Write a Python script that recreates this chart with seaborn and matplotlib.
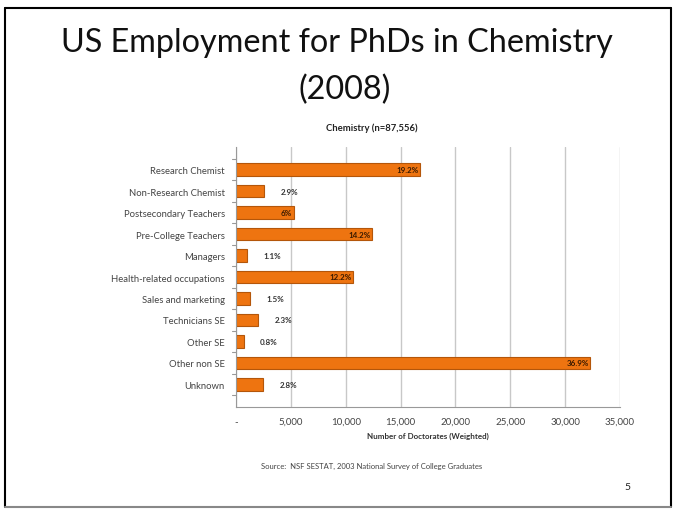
import matplotlib
matplotlib.use("Agg")
import matplotlib.pyplot as plt
import seaborn as sns
from matplotlib.lines import Line2D

# data
categories = ["Research Chemist", "Non-Research Chemist", "Postsecondary Teachers",
              "Pre-College Teachers", "Managers", "Health-related occupations",
              "Sales and marketing", "Technicians SE", "Other SE", "Other non SE", "Unknown"]
doctorates = [16810, 2540, 5250, 12430, 960, 10680, 1310, 2010, 700, 32310, 2450]
pct_labels = ["19.2%", "2.9%", "6%", "14.2%", "1.1%", "12.2%", "1.5%", "2.3%", "0.8%", "36.9%", "2.8%"]
inside = [True, False, True, True, False, True, False, False, False, True, False]
xticks = [0, 5000, 10000, 15000, 20000, 25000, 30000, 35000]
xtick_labels = ["-", "5,000", "10,000", "15,000", "20,000", "25,000", "30,000", "35,000"]

sns.set_style("white")
plt.rcParams["font.family"] = ["Lato", "DejaVu Sans"]

W, H = 674, 510
fig = plt.figure(figsize=(W / 100, H / 100), dpi=100)
ax = fig.add_axes([236 / W, 1 - 408 / H, (620 - 236) / W, (408 - 148) / H])

sns.barplot(x=doctorates, y=categories, orient="h", color="#EE7410", saturation=1,
            width=0.6, edgecolor="#B4560A", linewidth=0.8, ax=ax)

ax.set_xlim(0, 35000)
ax.set_xticks(xticks)
ax.set_xticklabels(xtick_labels, fontsize=7, color="#444444")
ax.tick_params(axis="y", labelsize=6.8, colors="#444444", length=0, pad=8)
ax.tick_params(axis="x", length=3, color="#999999", pad=4)
ax.xaxis.grid(True, color="#C8C8C8", linewidth=1)
ax.set_axisbelow(True)
for s in ["top", "right"]:
    ax.spines[s].set_visible(False)
ax.spines["left"].set_color("#999999")
ax.spines["bottom"].set_color("#999999")
ax.set_ylabel("")
ax.set_xlabel("Number of Doctorates (Weighted)", fontsize=5.8, fontweight="bold",
              color="#333333", labelpad=4)

# little tick marks between categories on the left axis
for i in range(len(categories) + 1):
    ax.plot([-350, 0], [i - 0.5, i - 0.5], color="#999999", lw=0.8, clip_on=False)

for i, (v, lab, ins) in enumerate(zip(doctorates, pct_labels, inside)):
    if ins:
        ax.text(v - 150, i, lab, ha="right", va="center", fontsize=5.8,
                fontweight="bold", color="#3A1A00")
    else:
        ax.text(v + 1500, i, lab, ha="left", va="center", fontsize=5.8,
                fontweight="bold", color="#333333")

fig.text(337 / W, 1 - 43 / H, "US Employment for PhDs in Chemistry", ha="center",
         va="center", fontsize=23.3, color="#111111")
fig.text(345 / W, 1 - 90 / H, "(2008)", ha="center", va="center", fontsize=23.3,
         color="#111111")
fig.text(372 / W, 1 - 128 / H, "Chemistry (n=87,556)", ha="center", va="center",
         fontsize=6.8, fontweight="bold", color="#222222")
fig.text(372 / W, 1 - 466 / H, "Source:  NSF SESTAT, 2003 National Survey of College Graduates",
         ha="center", va="center", fontsize=5.5, color="#444444")
fig.text(627 / W, 1 - 487 / H, "5", ha="center", va="center", fontsize=7.5, color="#222222")

# slide border
fig.add_artist(Line2D([5 / W, 5 / W], [1 - 9 / H, 1 - 508 / H], color="black", lw=1.5))
fig.add_artist(Line2D([5 / W, 671 / W], [1 - 9 / H, 1 - 9 / H], color="black", lw=1.5))
fig.add_artist(Line2D([671 / W, 671 / W], [1 - 9 / H, 1 - 508 / H], color="black", lw=1.5))
fig.add_artist(Line2D([5 / W, 671 / W], [1 - 508 / H, 1 - 508 / H], color="#888888", lw=1.5))

fig.savefig("out.png", dpi=100)
